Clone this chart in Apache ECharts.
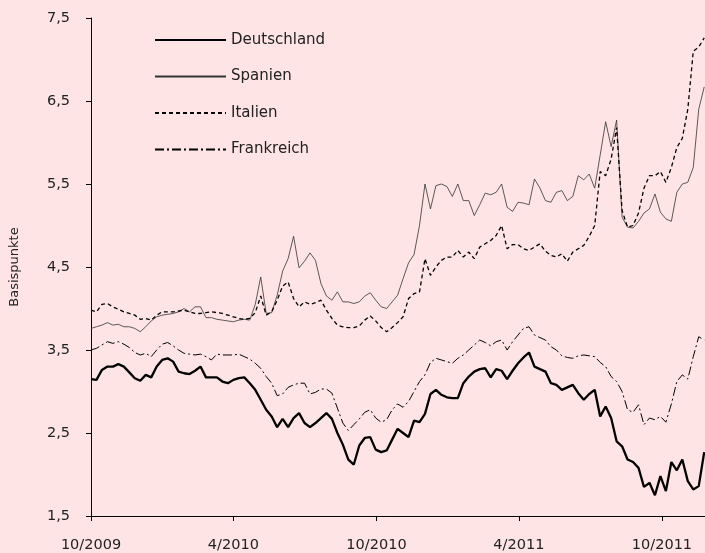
<!DOCTYPE html>
<html>
<head>
<meta charset="utf-8">
<script src="https://cdn.jsdelivr.net/npm/echarts@6/dist/echarts.min.js"></script>
<style>
html,body{margin:0;padding:0;background:#fee4e5;}
#main{width:705px;height:553px;}
</style>
</head>
<body>
<div id="main"></div>
<script>
// Wochenwerte ab 1.10.2009
var startDate = Date.UTC(2009, 9, 1)
var endDate = Date.UTC(2011, 10, 25)

var deutschland = [3.15,3.14,3.26,3.3,3.3,3.33,3.3,3.23,3.16,3.13,3.2,3.17,3.3,3.38,3.4,3.36,3.24,3.22,3.21,3.25,
	3.3,3.17,3.17,3.17,3.12,3.1,3.14,3.16,3.17,3.1,3.02,2.9,2.78,2.7,2.57,2.67,2.57,2.68,2.74,2.62,
	2.57,2.62,2.68,2.74,2.67,2.5,2.36,2.18,2.12,2.35,2.44,2.45,2.3,2.27,2.29,2.42,2.55,2.5,2.45,2.65,
	2.63,2.73,2.97,3.02,2.96,2.93,2.92,2.92,3.1,3.18,3.24,3.27,3.28,3.17,3.27,3.25,3.15,3.25,3.34,3.41,
	3.47,3.3,3.27,3.24,3.1,3.08,3.02,3.05,3.08,2.98,2.9,2.97,3.02,2.7,2.82,2.68,2.4,2.34,2.18,2.15,
	2.08,1.85,1.9,1.75,1.98,1.8,2.15,2.05,2.18,1.92,1.82,1.86,2.27]
var spanien = [3.76,3.78,3.8,3.83,3.8,3.81,3.78,3.78,3.76,3.72,3.78,3.85,3.9,3.92,3.93,3.94,3.96,4.0,3.96,4.02,
	4.02,3.89,3.89,3.87,3.86,3.85,3.84,3.86,3.87,3.86,4.05,4.38,3.94,3.95,4.16,4.45,4.6,4.87,4.49,4.57,
	4.67,4.58,4.3,4.15,4.1,4.2,4.08,4.08,4.06,4.08,4.15,4.19,4.1,4.02,4.0,4.08,4.16,4.36,4.55,4.65,
	5.0,5.5,5.2,5.48,5.5,5.47,5.35,5.5,5.3,5.3,5.12,5.25,5.39,5.37,5.4,5.5,5.22,5.17,5.28,5.27,
	5.25,5.56,5.45,5.3,5.28,5.4,5.42,5.3,5.35,5.6,5.55,5.62,5.45,5.85,6.25,5.95,6.27,5.1,4.98,4.97,
	5.05,5.15,5.2,5.38,5.16,5.08,5.05,5.4,5.5,5.52,5.7,6.4,6.67]
var italien = [3.98,3.96,4.05,4.06,4.02,3.99,3.96,3.94,3.92,3.87,3.88,3.86,3.92,3.96,3.96,3.96,3.97,3.98,3.96,3.94,
	3.94,3.95,3.96,3.95,3.94,3.92,3.9,3.88,3.87,3.88,3.95,4.15,3.92,3.96,4.1,4.27,4.32,4.12,4.02,4.08,
	4.05,4.07,4.1,3.98,3.88,3.8,3.78,3.77,3.77,3.79,3.86,3.91,3.85,3.77,3.72,3.77,3.83,3.9,4.12,4.18,
	4.2,4.6,4.4,4.5,4.58,4.62,4.62,4.7,4.62,4.68,4.6,4.74,4.78,4.82,4.88,5.0,4.72,4.77,4.77,4.72,
	4.7,4.74,4.78,4.69,4.64,4.62,4.66,4.57,4.68,4.72,4.76,4.87,5.0,5.65,5.6,5.8,6.18,5.18,4.98,5.0,
	5.15,5.45,5.6,5.6,5.65,5.52,5.7,5.94,6.05,6.4,7.1,7.15,7.26]
var frankreich = [3.5,3.52,3.56,3.6,3.58,3.6,3.57,3.53,3.47,3.44,3.46,3.42,3.5,3.57,3.59,3.55,3.5,3.46,3.45,3.44,
	3.45,3.42,3.38,3.45,3.44,3.44,3.44,3.45,3.42,3.39,3.34,3.28,3.18,3.1,2.95,2.97,3.05,3.08,3.1,3.1,
	2.97,2.99,3.03,3.03,2.98,2.8,2.62,2.53,2.6,2.67,2.75,2.78,2.68,2.63,2.66,2.78,2.85,2.81,2.88,3.0,
	3.12,3.2,3.35,3.4,3.38,3.36,3.34,3.4,3.44,3.5,3.56,3.62,3.59,3.55,3.6,3.62,3.5,3.6,3.68,3.76,
	3.78,3.68,3.65,3.62,3.54,3.5,3.43,3.41,3.4,3.43,3.44,3.43,3.42,3.35,3.3,3.18,3.12,3.0,2.78,2.75,
	2.84,2.6,2.68,2.66,2.7,2.63,2.85,3.12,3.2,3.15,3.42,3.66,3.62]

var yTicks = [1.5,2.5,3.5,4.5,5.5,6.5,7.5]
var xTicks = [Date.UTC(2009,9,1),Date.UTC(2010,3,1),Date.UTC(2010,9,1),Date.UTC(2011,3,1),Date.UTC(2011,9,1)]
var xTickLabels = ['10/2009','4/2010','10/2010','4/2011','10/2011']

function pairs(vals){
	var out = []
	for(var i=0;i<vals.length;i++){
		out.push([startDate + i*7*86400000, vals[i]])
	}
	return out
}

var font = 'DejaVu Sans'
var myChart = echarts.init(document.getElementById('main'))
var option = {
	backgroundColor: '#fee4e5',
	animation: false,
	textStyle: {fontFamily: font},
	grid: {left: 90, right: 0, top: 18, bottom: 37},
	legend: {
		orient: 'vertical',
		left: 154,
		top: 31,
		padding: 0,
		itemWidth: 71,
		itemHeight: 18,
		itemGap: 18.5,
		itemStyle: {opacity: 0},
		textStyle: {fontFamily: font, fontSize: 15, color: '#222', lineHeight: 18},
		data: ['Deutschland','Spanien','Italien','Frankreich']
	},
	xAxis: {
		type: 'value',
		min: startDate,
		max: endDate,
		axisLine: {lineStyle: {color: '#000', width: 1}},
		axisTick: {show: true, length: 5, lineStyle: {color: '#000'}, customValues: xTicks},
		splitLine: {show: false},
		axisLabel: {
			customValues: xTicks,
			color: '#222', fontSize: 14.5, margin: 22, fontFamily: font,
			formatter: function(v){
				var i = xTicks.indexOf(v)
				return i >= 0 ? xTickLabels[i] : ''
			}
		}
	},
	yAxis: {
		type: 'value',
		min: 1.5,
		max: 7.5,
		name: 'Basispunkte',
		nameLocation: 'middle',
		nameGap: 70,
		nameTextStyle: {fontFamily: font, fontSize: 13, color: '#222'},
		axisLine: {show: true, lineStyle: {color: '#000', width: 1}},
		axisTick: {show: true, length: 5, lineStyle: {color: '#000'}, customValues: yTicks},
		splitLine: {show: false},
		axisLabel: {
			customValues: yTicks,
			color: '#222', fontSize: 14.5, margin: 21, fontFamily: font,
			formatter: function(v){ return String(v).replace('.', ',') }
		}
	},
	series: [
		{name: 'Deutschland', type: 'line', symbol: 'none', data: pairs(deutschland),
			lineStyle: {color: '#000', width: 2.3}, itemStyle: {color: '#000'}},
		{name: 'Spanien', type: 'line', symbol: 'none', data: pairs(spanien),
			lineStyle: {color: '#333', width: 0.8}, itemStyle: {color: '#333'}},
		{name: 'Italien', type: 'line', symbol: 'none', data: pairs(italien),
			lineStyle: {color: '#000', width: 1.3, type: [4,3]}, itemStyle: {color: '#000'}},
		{name: 'Frankreich', type: 'line', symbol: 'none', data: pairs(frankreich),
			lineStyle: {color: '#000', width: 1, type: [9,3,2,3]}, itemStyle: {color: '#000'}}
	]
}
myChart.setOption(option)
</script>
</body>
</html>
